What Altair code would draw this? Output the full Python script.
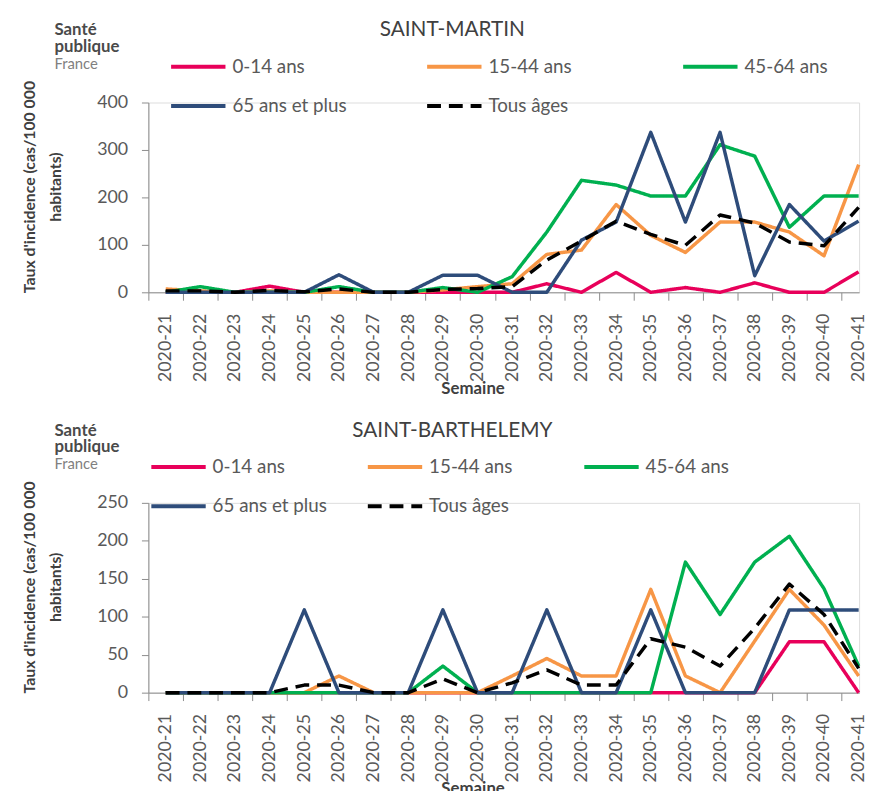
import altair as alt
import pandas as pd

weeks = list(range(21, 42))
groups = ["0-14 ans", "15-44 ans", "45-64 ans", "65 ans et plus", "Tous âges"]
colors = ["#E8005A", "#F79646", "#00B050", "#2E4C7A", "#000000"]
dashes = [[1, 0], [1, 0], [1, 0], [1, 0], [14, 8]]

# SAINT-MARTIN
sm_0_14 = [0, 0, 0, 13, 0, 0, 0, 0, 0, 0, 0, 18, 0, 42, 0, 10, 0, 20, 0, 0, 43]
sm_15_44 = [7, 3, 0, 3, 0, 0, 0, 0, 5, 12, 18, 80, 89, 185, 120, 84, 148, 148, 127, 77, 269]
sm_45_64 = [0, 12, 0, 0, 0, 12, 0, 0, 10, 0, 33, 127, 236, 226, 203, 203, 311, 287, 137, 203, 203]
sm_65 = [0, 0, 0, 0, 0, 37, 0, 0, 36, 36, 0, 0, 110, 148, 337, 148, 337, 35, 185, 108, 150]
sm_tous = [3, 3, 0, 4, 1, 7, 0, 0, 6, 8, 12, 68, 108, 150, 122, 99, 163, 146, 106, 98, 179]

# SAINT-BARTHELEMY
sb_0_14 = [0, 0, 0, 0, 0, 0, 0, 0, 0, 0, 0, 0, 0, 0, 0, 0, 0, 0, 67, 67, 0]
sb_15_44 = [0, 0, 0, 0, 0, 22, 0, 0, 0, 0, 22, 45, 22, 22, 136, 22, 0, 68, 136, 89, 22]
sb_45_64 = [0, 0, 0, 0, 0, 0, 0, 0, 35, 0, 0, 0, 0, 0, 0, 172, 103, 172, 206, 137, 35]
sb_65 = [0, 0, 0, 0, 109, 0, 0, 0, 109, 0, 0, 109, 0, 0, 109, 0, 0, 0, 109, 109, 109]
sb_tous = [0, 0, 0, 0, 10, 10, 0, 0, 18, 0, 13, 30, 10, 10, 71, 60, 35, 85, 143, 103, 32]

y_title = ["Taux d'incidence  (cas/100 000", "habitants)"]
FONT = "Lato"
GREY = "#595959"
AXIS = "#8C8C8C"


def panel(title, series, ymax, ystep, legend_x, col_pad, title_dx):
    rows = []
    for g, vals in zip(groups, series):
        for w, v in zip(weeks, vals):
            rows.append({"semaine": w, "groupe": g, "valeur": v})
    df = pd.DataFrame(rows)

    leg = alt.Legend(
        title=None, orient="none", legendX=legend_x, legendY=-66,
        direction="horizontal", columns=3, columnPadding=col_pad, rowPadding=-33,
        gridAlign="all",
        symbolType="stroke", symbolSize=3025, symbolStrokeWidth=4,
        labelFont=FONT, labelFontSize=19, labelColor=GREY, labelOffset=5,
        labelLimit=300,
    )

    lines = alt.Chart(df).mark_line(strokeWidth=3.5, strokeJoin="round").encode(
        x=alt.X(
            "semaine:Q",
            scale=alt.Scale(domain=[20.5, 41.013], nice=False, zero=False),
            axis=alt.Axis(
                values=weeks, labelExpr="'2020-' + datum.value", labelAngle=270,
                tickOffset=-17.53, labelOffset=17.53, tickSize=8, tickColor=AXIS,
                domainColor=AXIS, labelFont=FONT, labelFontSize=18, labelColor=GREY,
                labelPadding=13, title="Semaine", titleFont=FONT, titleFontSize=17,
                titleFontWeight="bold", titleColor="#404040", titlePadding=-1,
                titleX=328, titleAlign="center", grid=False,
            ),
        ),
        y=alt.Y(
            "valeur:Q",
            scale=alt.Scale(domain=[0, ymax], nice=False),
            axis=alt.Axis(
                values=list(range(0, ymax + 1, ystep)), tickSize=7, tickColor=AXIS,
                domainColor=AXIS, labelFont=FONT, labelFontSize=18, labelColor=GREY,
                labelPadding=14, title=y_title, titleFont=FONT, titleFontSize=16,
                titleFontWeight="bold", titleColor="#404040", titleLineHeight=26,
                titlePadding=34, titleY=85, grid=False,
            ),
        ),
        color=alt.Color("groupe:N", scale=alt.Scale(domain=groups, range=colors), legend=leg),
        strokeDash=alt.StrokeDash("groupe:N", scale=alt.Scale(domain=groups, range=dashes), legend=leg),
    )

    logo_df = pd.DataFrame({"t": ["Santé"]})
    l1 = alt.Chart(logo_df).mark_text(
        text="Santé", font=FONT, fontSize=17, fontWeight="bold", color="#4A4A4A",
        align="left", baseline="middle"
    ).encode(x=alt.value(-95), y=alt.value(-73))
    l2 = alt.Chart(logo_df).mark_text(
        text="publique", font=FONT, fontSize=17, fontWeight="bold", color="#4A4A4A",
        align="left", baseline="middle"
    ).encode(x=alt.value(-95), y=alt.value(-56))
    l3 = alt.Chart(logo_df).mark_text(
        text="France", font=FONT, fontSize=15, color="#808080",
        align="left", baseline="middle"
    ).encode(x=alt.value(-95), y=alt.value(-39))

    return alt.layer(lines, l1, l2, l3).properties(
        width=719, height=192,
        title=alt.TitleParams(
            title, font=FONT, fontSize=21, fontWeight="normal", color="#404040",
            anchor="middle", frame="group", dx=title_dx, offset=-19,
        ),
    )


top = panel("SAINT-MARTIN", [sm_0_14, sm_15_44, sm_45_64, sm_65, sm_tous], 400, 100, 21, 73, -52)
bottom = panel("SAINT-BARTHELEMY", [sb_0_14, sb_15_44, sb_45_64, sb_65, sb_tous], 250, 50, 1, 33, -52)

chart = alt.vconcat(top, bottom, spacing=22).resolve_scale(
    color="independent", strokeDash="independent"
).resolve_legend(
    color="independent", strokeDash="independent"
).properties(
    padding={"left": 13, "top": 6, "right": 0, "bottom": 0}
).configure_view(stroke=None).configure(font=FONT)

chart.save("out.html", embed_options={"renderer": "svg", "actions": False})
